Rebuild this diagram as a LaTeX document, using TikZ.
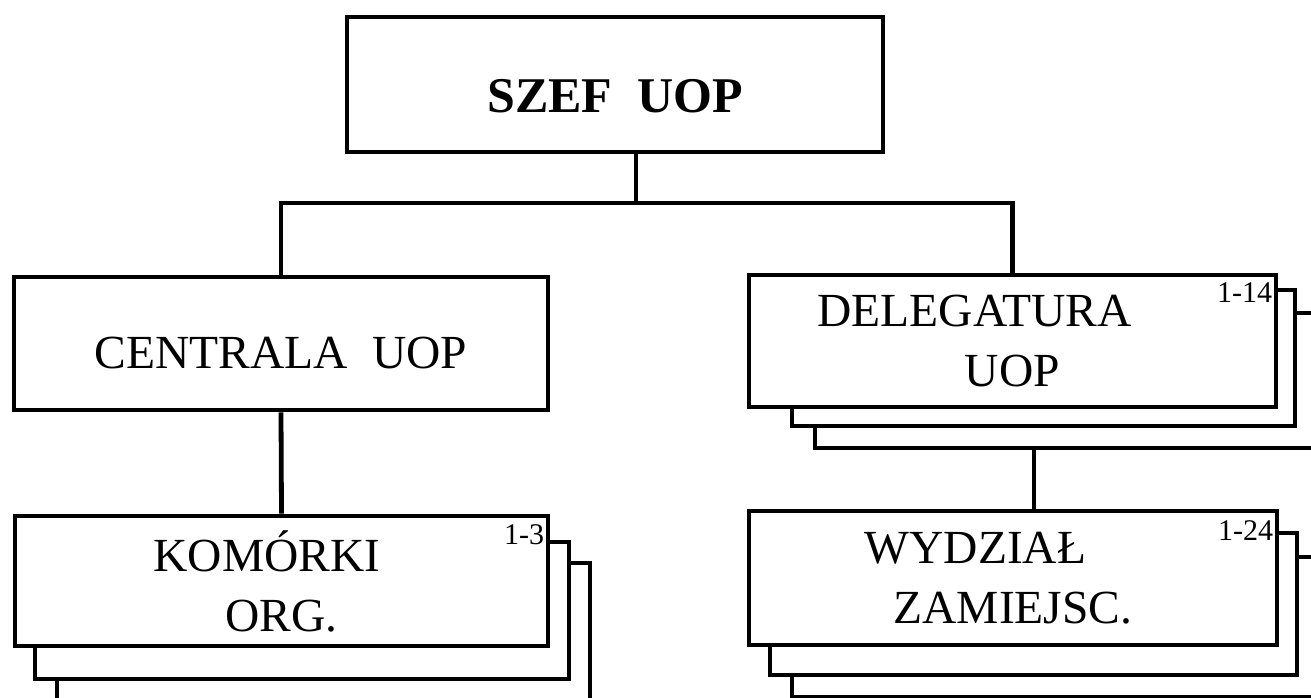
\documentclass[tikz,border=0pt]{standalone}
\usepackage{fontspec}
\setmainfont{Liberation Serif}
\usetikzlibrary{calc}

\tikzset{
  unitbox/.style={draw, fill=white, line width=4.8pt, inner sep=0pt, align=center,
    font=\fontsize{47.5}{60}\selectfont},
  backbox/.style={draw, fill=white, line width=4.8pt},
  countlabel/.style={anchor=north east, inner sep=0pt, font=\fontsize{30}{30}\selectfont},
  link/.style={line width=4.8pt}
}

\begin{document}
\begin{tikzpicture}[x=1pt,y=1pt,yscale=-1]
\useasboundingbox (0,0) rectangle (1311,698);
\clip (0,0) rectangle (1311,698);

%Shape: Top box
\node [unitbox, minimum width=536, minimum height=135, text height=56pt, text depth=0pt,
  font=\fontsize{50}{60}\selectfont\bfseries] (szef) at (615,84.5) {SZEF\ \ UOP};

%Shape: Left column
\node [unitbox, minimum width=534, minimum height=133, text height=49pt, text depth=0pt] (centrala) at (281,343.5) {CENTRALA\ \ UOP};
%stacked copies behind
\draw [backbox] (57,563) rectangle (590,720);
\draw [backbox] (35,542) rectangle (569,679);
\node [unitbox, minimum width=533, minimum height=130] (komorki) at (281.5,581) {KOM\'ORKI\hspace*{29pt}\\ORG.};

%Shape: Right column
\draw [backbox] (815,313) rectangle (1340,448);
\draw [backbox] (792,290) rectangle (1295,426);
\node [unitbox, minimum width=527, minimum height=132] (delegatura) at (1012.5,341) {DELEGATURA\hspace*{76pt}\\UOP};
\draw [backbox] (792,557) rectangle (1340,697);
\draw [backbox] (770,533) rectangle (1297,675);
\node [unitbox, minimum width=528, minimum height=134] (wydzial) at (1013,578) {WYDZIA\L\hspace*{75pt}\\ZAMIEJSC.};

% Text Node
\node [countlabel] (komorki-n) at ($(komorki.north east)+(-6,11)$) {1-3};
\node [countlabel] (delegatura-n) at ($(delegatura.north east)+(-6,10)$) {1-14};
\node [countlabel] (wydzial-n) at ($(wydzial.north east)+(-6,12)$) {1-24};

%Straight Lines
\coordinate (bus) at (636,203);
\draw [link] (szef.south -| bus) -- (bus);
\draw [link] (centrala.north) |- (bus) -| (delegatura.north);
\draw [link] (centrala.south) -- (komorki.north);
\coordinate (wydzial-in) at ($(wydzial.north)+(21,0)$);
\draw [link] (wydzial-in) -- ++(0,-63);
\end{tikzpicture}
\end{document}
